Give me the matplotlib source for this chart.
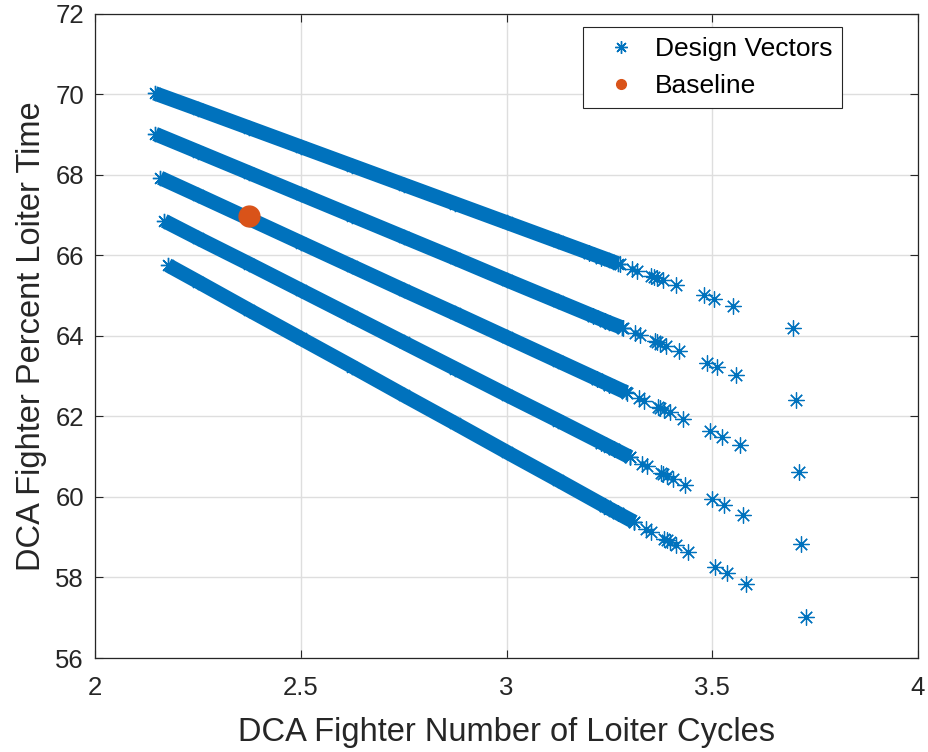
import matplotlib
matplotlib.use('Agg')
import matplotlib.pyplot as plt
from matplotlib.lines import Line2D
from matplotlib.ticker import FormatStrFormatter

plt.rcParams['font.family'] = ['Liberation Sans', 'DejaVu Sans']

BLUE = '#0072BD'
ORANGE = '#D95319'
DARK = '#262626'
STAR = (8, 2, 0)   # 8-spoke asterisk, like matlab '*'

# dense part of each design-vector band (read along the band centre)
band1_x = [2.145, 2.25, 2.375, 2.5, 2.625, 2.75, 2.875, 3.0, 3.125, 3.25, 3.27]
band1_y = [70.03, 69.64, 69.17, 68.70, 68.23, 67.76, 67.29, 66.82, 66.35, 65.88, 65.80]
band2_x = [2.146, 2.25, 2.375, 2.5, 2.625, 2.75, 2.875, 3.0, 3.125, 3.25, 3.28]
band2_y = [69.02, 68.58, 68.05, 67.52, 66.99, 66.46, 65.93, 65.39, 64.86, 64.33, 64.21]
band3_x = [2.158, 2.25, 2.375, 2.5, 2.625, 2.75, 2.875, 3.0, 3.125, 3.25, 3.29]
band3_y = [67.93, 67.50, 66.91, 66.32, 65.73, 65.14, 64.56, 63.97, 63.38, 62.79, 62.60]
band4_x = [2.168, 2.25, 2.375, 2.5, 2.625, 2.75, 2.875, 3.0, 3.125, 3.25, 3.30]
band4_y = [66.86, 66.43, 65.79, 65.14, 64.49, 63.84, 63.19, 62.54, 61.90, 61.25, 60.99]
band5_x = [2.177, 2.25, 2.375, 2.5, 2.625, 2.75, 2.875, 3.0, 3.125, 3.25, 3.31]
band5_y = [65.76, 65.35, 64.64, 63.94, 63.24, 62.53, 61.83, 61.12, 60.42, 59.71, 59.38]

# single design vectors towards the end of each band
tail1_x = [3.20, 3.23, 3.276, 3.305, 3.317, 3.352, 3.358, 3.366, 3.380, 3.412, 3.480, 3.504, 3.550, 3.696]
tail1_y = [66.06, 65.95, 65.78, 65.67, 65.62, 65.49, 65.47, 65.44, 65.39, 65.27, 65.01, 64.92, 64.75, 64.20]
tail2_x = [3.21, 3.24, 3.283, 3.312, 3.325, 3.360, 3.366, 3.374, 3.388, 3.419, 3.487, 3.512, 3.558, 3.703]
tail2_y = [64.50, 64.38, 64.19, 64.07, 64.02, 63.87, 63.84, 63.81, 63.75, 63.62, 63.33, 63.22, 63.03, 62.41]
tail3_x = [3.22, 3.25, 3.292, 3.322, 3.335, 3.368, 3.374, 3.382, 3.397, 3.429, 3.495, 3.524, 3.567, 3.711]
tail3_y = [62.93, 62.79, 62.59, 62.45, 62.39, 62.23, 62.21, 62.17, 62.10, 61.95, 61.64, 61.50, 61.30, 60.62]
tail4_x = [3.23, 3.26, 3.300, 3.330, 3.342, 3.375, 3.381, 3.389, 3.405, 3.434, 3.499, 3.529, 3.575, 3.716]
tail4_y = [61.35, 61.20, 60.99, 60.83, 60.77, 60.60, 60.57, 60.53, 60.44, 60.29, 59.96, 59.80, 59.56, 58.83]
tail5_x = [3.24, 3.27, 3.310, 3.340, 3.352, 3.383, 3.389, 3.397, 3.412, 3.441, 3.507, 3.536, 3.582, 3.728]
tail5_y = [59.77, 59.60, 59.38, 59.21, 59.14, 58.96, 58.93, 58.89, 58.80, 58.64, 58.27, 58.10, 57.84, 57.02]

baseline_x = [2.374]
baseline_y = [66.98]

fig = plt.figure(figsize=(9.29, 7.52), dpi=100)
ax = fig.add_axes([0.1023, 0.125, 0.8859, 0.8564])

bands = [(band1_x, band1_y), (band2_x, band2_y), (band3_x, band3_y), (band4_x, band4_y), (band5_x, band5_y)]
tails = [(tail1_x, tail1_y), (tail2_x, tail2_y), (tail3_x, tail3_y), (tail4_x, tail4_y), (tail5_x, tail5_y)]

for bx, by in bands:
    ax.plot(bx, by, '-', color=BLUE, lw=10.5, solid_capstyle='butt', zorder=3)
    ax.plot(bx, by, ls='none', marker=STAR, ms=11, mew=1.0, color=BLUE, zorder=3)
for tx, ty in tails:
    ax.plot(tx, ty, ls='none', marker=STAR, ms=11.5, mew=0.9, color=BLUE, zorder=3)

ax.plot(baseline_x, baseline_y, 'o', color=ORANGE, ms=15, zorder=4)

ax.set_xlim(2, 4)
ax.set_ylim(56, 72)
ax.set_xticks([2, 2.5, 3, 3.5, 4])
ax.set_yticks(range(56, 73, 2))
ax.xaxis.set_major_formatter(FormatStrFormatter('%g'))
ax.yaxis.set_major_formatter(FormatStrFormatter('%g'))
ax.tick_params(direction='in', length=6, width=0.8, colors=DARK, labelsize=18.5,
               top=True, right=True)
ax.tick_params(axis='x', pad=13)
ax.tick_params(axis='y', pad=8)
ax.grid(True, color='#DEDEDE', lw=1.0)
ax.set_axisbelow(True)
for s in ax.spines.values():
    s.set_color(DARK)
    s.set_linewidth(0.9)

ax.set_xlabel('DCA Fighter Number of Loiter Cycles', fontsize=23.5, color=DARK, labelpad=12)
ax.set_ylabel('DCA Fighter Percent Loiter Time', fontsize=23.5, color=DARK, labelpad=6)

handles = [Line2D([], [], ls='none', marker=STAR, ms=9, mew=1.0, color=BLUE),
           Line2D([], [], ls='none', marker='o', ms=7, color=ORANGE)]
leg = ax.legend(handles, ['Design Vectors', 'Baseline'], loc='upper right',
                bbox_to_anchor=(0.9077, 0.9798), borderaxespad=0, fontsize=19,
                fancybox=False, framealpha=1, edgecolor=DARK, borderpad=0.38,
                handlelength=2.15, handletextpad=0.2, labelspacing=0.5)
leg.get_frame().set_linewidth(0.8)

fig.savefig('out.png', dpi=100)
